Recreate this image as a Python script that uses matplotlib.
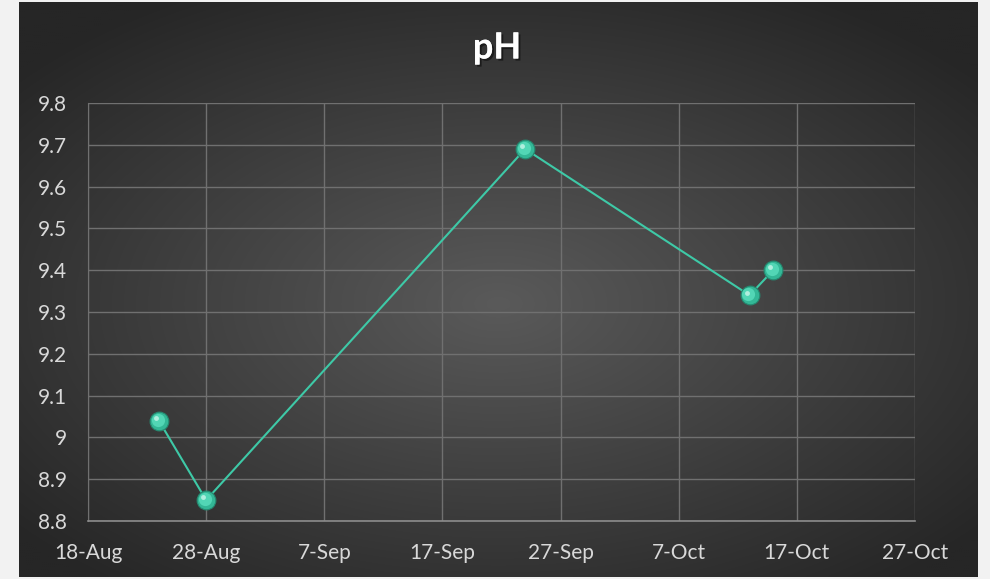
import numpy as np
import matplotlib
matplotlib.use("Agg")
import matplotlib.pyplot as plt
import matplotlib.patheffects as pe
import matplotlib.transforms as mtransforms
import datetime as dt

# Data
dates = ["2023-08-24", "2023-08-28", "2023-09-24", "2023-10-13", "2023-10-15"]
ph_values = [9.04, 8.85, 9.69, 9.34, 9.40]
x_tick_dates = ["2023-08-18", "2023-08-28", "2023-09-07", "2023-09-17",
                "2023-09-27", "2023-10-07", "2023-10-17", "2023-10-27"]
x_tick_labels = ["18-Aug", "28-Aug", "7-Sep", "17-Sep", "27-Sep", "7-Oct", "17-Oct", "27-Oct"]
y_ticks = [8.8, 8.9, 9.0, 9.1, 9.2, 9.3, 9.4, 9.5, 9.6, 9.7, 9.8]
y_tick_labels = ["8.8", "8.9", "9", "9.1", "9.2", "9.3", "9.4", "9.5", "9.6", "9.7", "9.8"]

plt.rcParams['font.family'] = ['Lato', 'DejaVu Sans']

W, H = 990, 579
fig = plt.figure(figsize=(W / 100, H / 100), dpi=100)
fig.patch.set_facecolor("#f2f2f2")

# Dark gradient background panel
bg = fig.add_axes([19 / W, 2 / H, (978 - 19) / W, (577 - 2) / H])
bg.set_axis_off()
nx, ny = 480, 290
xx, yy = np.meshgrid(np.linspace(-1, 1, nx), np.linspace(-1, 1, ny))
cx, cy = 0.0, 0.05
r = np.sqrt(((xx - cx) / 1.05) ** 2 + ((yy - cy) / 1.0) ** 2)
r = np.clip(r / 1.25, 0, 1)
c_in = np.array([0x5a, 0x5a, 0x5a]) / 255
c_out = np.array([0x26, 0x26, 0x26]) / 255
img = c_in[None, None, :] * (1 - r[..., None]) + c_out[None, None, :] * r[..., None]
bg.imshow(img, aspect="auto", extent=[0, 1, 0, 1], interpolation="bilinear")
bg.set_xlim(0, 1)
bg.set_ylim(0, 1)

ax = fig.add_axes([88 / W, (H - 521) / H, (915 - 88) / W, (521 - 103) / H])
ax.patch.set_alpha(0)

xd = [dt.datetime.strptime(d, "%Y-%m-%d") for d in dates]
xt = [dt.datetime.strptime(d, "%Y-%m-%d") for d in x_tick_dates]

ax.plot(xd, ph_values, color="#3ec9a7", lw=1.5, zorder=3)
ax.plot(xd, ph_values, linestyle="none", marker="o", markersize=13.5,
        markerfacecolor="#33b796", markeredgecolor="#25876f", markeredgewidth=0.8, zorder=4)
hl1 = mtransforms.offset_copy(ax.transData, fig=fig, x=-0.8, y=0.8, units="points")
ax.plot(xd, ph_values, linestyle="none", marker="o", markersize=9.5, transform=hl1,
        markerfacecolor="#52d6b5", markeredgecolor="none", zorder=5)
hl2 = mtransforms.offset_copy(ax.transData, fig=fig, x=-2.0, y=2.0, units="points")
ax.plot(xd, ph_values, linestyle="none", marker="o", markersize=3.5, transform=hl2,
        markerfacecolor="#c9f5e9", markeredgecolor="none", alpha=0.8, zorder=6)

ax.set_xlim(xt[0], xt[-1])
ax.set_ylim(8.8, 9.8)
ax.set_xticks(xt)
ax.set_xticklabels(x_tick_labels)
ax.set_yticks(y_ticks)
ax.set_yticklabels(y_tick_labels)

ax.grid(True, color="#707070", lw=1, zorder=0)
ax.set_axisbelow(True)
for s in ["top", "right"]:
    ax.spines[s].set_visible(False)
ax.spines["left"].set_color("#707070")
ax.spines["bottom"].set_color("#8c8c8c")
ax.spines["bottom"].set_linewidth(1.2)
ax.tick_params(axis="both", length=0, colors="#d9d9d9", labelsize=15)
ax.tick_params(axis="x", pad=16)
ax.tick_params(axis="y", pad=15)

fig.text(497 / W, 1 - 48 / H, "pH", ha="center", va="center", color="white",
         fontsize=26, fontweight="bold",
         path_effects=[pe.withSimplePatchShadow(offset=(1.5, -1.5), shadow_rgbFace="black", alpha=0.5), pe.Normal()])

fig.savefig("out.png", dpi=100, facecolor=fig.get_facecolor())
